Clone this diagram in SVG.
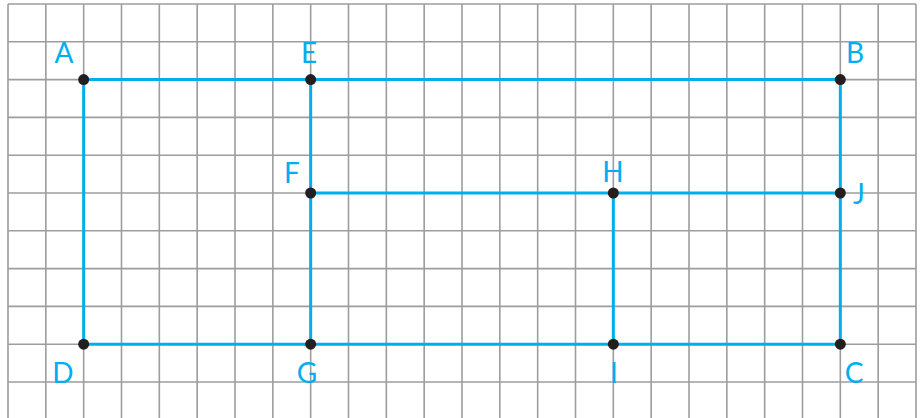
<svg xmlns="http://www.w3.org/2000/svg" width="920" height="418" viewBox="0 0 920 418">
<style>
.grid{stroke:#9d9d9f;stroke-width:1.6;fill:none}
.seg{stroke:#00aeef;stroke-width:3;fill:none}
.pt{fill:#231f20}
.lbl{font-family:Lato,"Open Sans",sans-serif;font-size:28px;fill:#00aeef;text-anchor:middle}
</style>
<rect width="920" height="418" fill="#fff"/>
<g id="grid" class="grid">
<path d="M8,4V418M45.83,4V418M83.67,4V418M121.5,4V418M159.33,4V418M197.17,4V418M235,4V418M272.83,4V418M310.67,4V418M348.5,4V418M386.33,4V418M424.17,4V418M462,4V418M499.83,4V418M537.67,4V418M575.5,4V418M613.33,4V418M651.17,4V418M689,4V418M726.83,4V418M764.67,4V418M802.5,4V418M840.33,4V418M878.17,4V418M916,4V418"/>
<path d="M8,4H916M8,41.8H916M8,79.6H916M8,117.4H916M8,155.2H916M8,193H916M8,230.8H916M8,268.6H916M8,306.4H916M8,344.2H916M8,382H916"/>
</g>
<g id="connectors" class="seg">
<path d="M83.67,79.6H840.33V344.2H83.67Z"/>
<path d="M310.67,79.6V344.2"/>
<path d="M310.67,193H840.33"/>
<path d="M613.33,193V344.2"/>
</g>
<g id="A"><circle class="pt" cx="83.67" cy="79.6" r="5.5"/><text class="lbl" x="64" y="63">A</text></g>
<g id="E"><circle class="pt" cx="310.67" cy="79.6" r="5.5"/><text class="lbl" x="309" y="63">E</text></g>
<g id="B"><circle class="pt" cx="840.33" cy="79.6" r="5.5"/><text class="lbl" x="855" y="63">B</text></g>
<g id="F"><circle class="pt" cx="310.67" cy="193" r="5.5"/><text class="lbl" x="292" y="183">F</text></g>
<g id="H"><circle class="pt" cx="613.33" cy="193" r="5.5"/><text class="lbl" x="613" y="182">H</text></g>
<g id="J"><circle class="pt" cx="840.33" cy="193" r="5.5"/><text class="lbl" x="859" y="204">J</text></g>
<g id="D"><circle class="pt" cx="83.67" cy="344.2" r="5.5"/><text class="lbl" x="63" y="383">D</text></g>
<g id="G"><circle class="pt" cx="310.67" cy="344.2" r="5.5"/><text class="lbl" x="307" y="383">G</text></g>
<g id="I"><circle class="pt" cx="613.33" cy="344.2" r="5.5"/><text class="lbl" x="614" y="383">I</text></g>
<g id="C"><circle class="pt" cx="840.33" cy="344.2" r="5.5"/><text class="lbl" x="854" y="383">C</text></g>
</svg>
